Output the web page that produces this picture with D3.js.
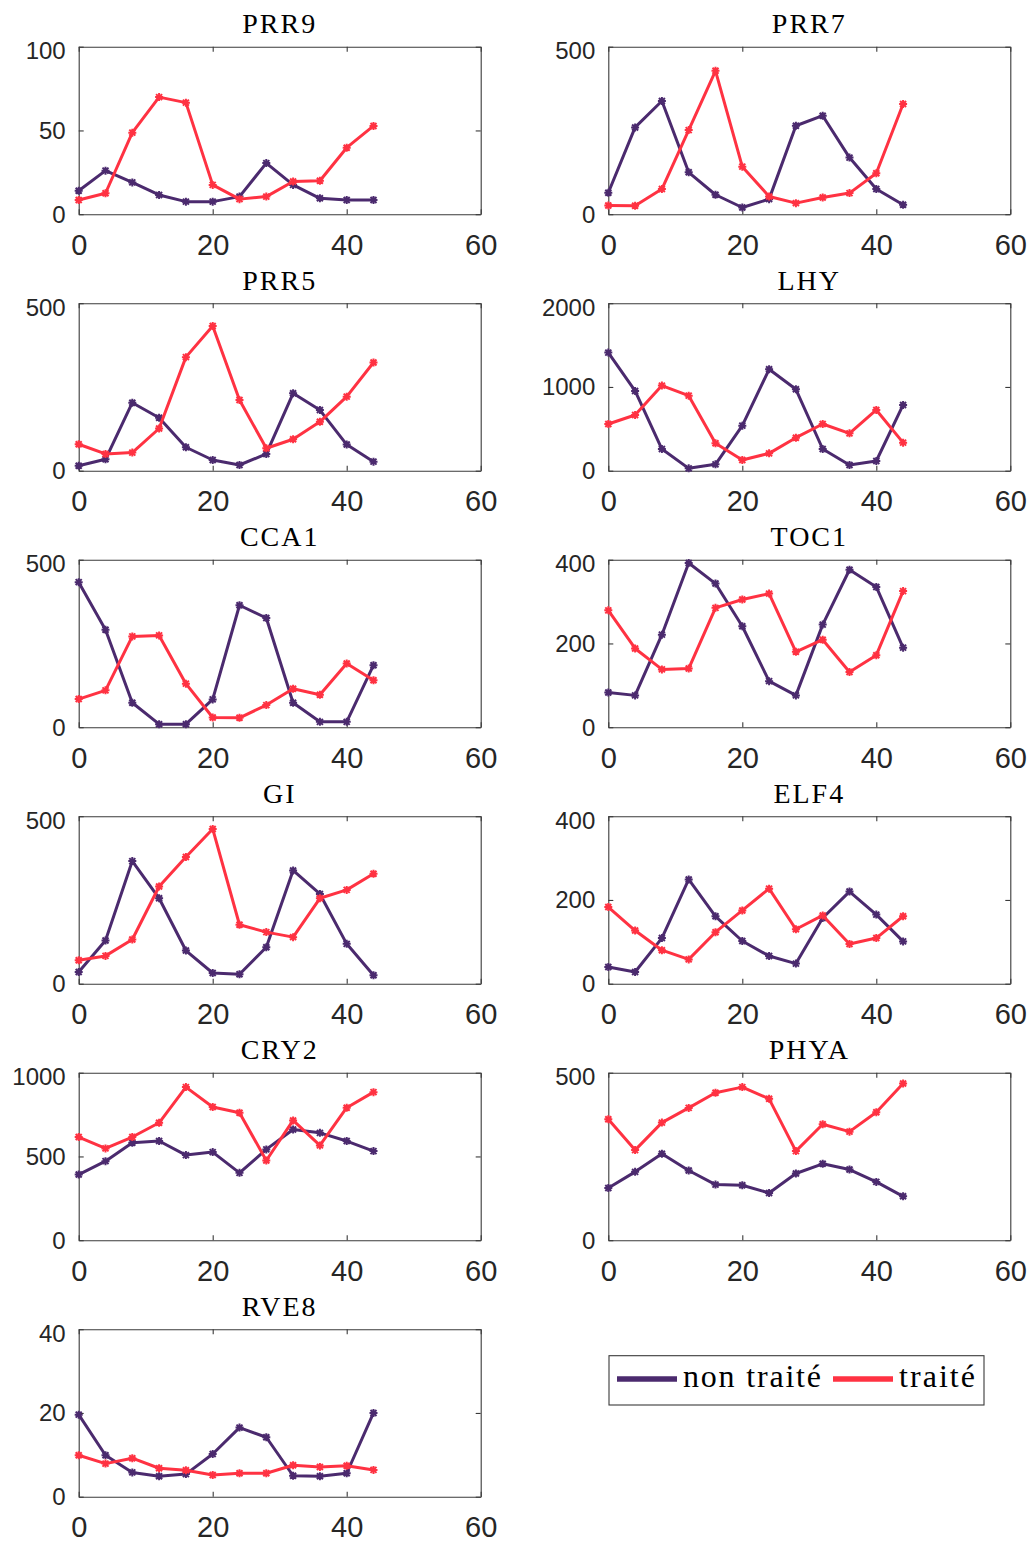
<!DOCTYPE html>
<html>
<head>
<meta charset="utf-8">
<script src="https://cdn.jsdelivr.net/npm/d3@7"></script>
<style>
  html, body { margin: 0; padding: 0; background: #fff; }
  svg { display: block; }
</style>
</head>
<body>
<svg id="chart" width="1031" height="1542"></svg>
<script>
// ---------- DATA ----------
const times = [0, 4, 8, 12, 16, 20, 24, 28, 32, 36, 40, 44];
const genes = ["PRR9", "PRR7", "PRR5", "LHY", "CCA1", "TOC1", "GI", "ELF4", "CRY2", "PHYA", "RVE8"];
const yMaxima = [100, 500, 500, 2000, 500, 400, 500, 400, 1000, 500, 40];
const yTickValues = [
  [0, 50, 100], [0, 500], [0, 500], [0, 1000, 2000], [0, 500], [0, 200, 400],
  [0, 500], [0, 200, 400], [0, 500, 1000], [0, 500], [0, 20, 40]
];
const xTickValues = [0, 20, 40, 60];
const seriesNames = ["non traité", "traité"];

// "non traité" values, one row per gene (same order as genes)
const nonTraite = [
  [14, 26, 19, 11.5, 7.5, 7.5, 10.5, 30.5, 17.5, 9.5, 8.5, 8.5],          // PRR9
  [64, 259, 338, 125, 58, 20, 45, 264, 294, 169, 75, 28],                // PRR7
  [15, 34, 203, 158, 70, 32, 17, 50, 231, 181, 78, 27],                  // PRR5
  [1410, 952, 259, 28, 76, 538, 1211, 972, 259, 68, 116, 785],           // LHY
  [433, 291, 73, 9, 9, 83, 364, 326, 73, 16, 16, 185],                   // CCA1
  [83, 76, 221, 392, 343, 241, 110, 76, 245, 376, 335, 190],             // TOC1
  [35, 129, 366, 255, 99, 32, 28, 109, 338, 268, 119, 25],               // GI
  [40, 28, 109, 249, 161, 102, 66, 48, 157, 220, 165, 101],              // ELF4
  [392, 472, 582, 592, 508, 526, 402, 542, 661, 641, 592, 532],          // CRY2
  [156, 204, 258, 208, 166, 164, 141, 199, 228, 211, 174, 131],          // PHYA
  [19.6, 9.9, 5.8, 4.9, 5.4, 10.2, 16.5, 14.2, 5.0, 4.9, 5.6, 20]        // RVE8
];
// "traité" values, one row per gene
const traite = [
  [8.5, 12.5, 48.7, 69.9, 66.6, 17.5, 9, 10.5, 19.5, 20, 39.7, 52.7],    // PRR9
  [26, 25, 75, 251, 428, 142, 53, 33, 50, 63, 122, 329],                 // PRR7
  [79, 50, 54, 126, 339, 432, 211, 67, 94, 146, 221, 323],               // PRR5
  [558, 665, 1016, 896, 327, 127, 207, 394, 558, 446, 725, 335],         // LHY
  [84, 110, 271, 274, 130, 29, 28, 66, 115, 97, 190, 140],               // CCA1
  [279, 188, 138, 140, 285, 305, 319, 180, 209, 132, 172, 325],          // TOC1
  [70, 83, 132, 290, 378, 462, 176, 154, 139, 255, 280, 328],            // GI
  [183, 127, 80, 58, 123, 175, 227, 130, 163, 95, 109, 161],             // ELF4
  [616, 548, 616, 701, 914, 795, 761, 476, 715, 566, 791, 884],          // CRY2
  [361, 269, 351, 395, 440, 457, 422, 266, 346, 324, 382, 468],          // PHYA
  [9.9, 7.9, 9.2, 6.8, 6.3, 5.2, 5.6, 5.6, 7.5, 7.1, 7.4, 6.4]           // RVE8
];

// ---------- STYLE / LAYOUT ----------
const colors = ["#4b2a6e", "#ff3242"];
const axisColor = "#262626";
const colLeft = [78.7, 608.3];
const plotW = 402;
const rowTop0 = 46.7, rowPitch = 256.5, plotH = 167.5;
const fmt = d3.format("d");

const svg = d3.select("#chart");

genes.forEach((gene, gi) => {
  const col = gi % 2, row = Math.floor(gi / 2);
  const left = colLeft[col], top = rowTop0 + row * rowPitch;
  const g = svg.append("g").attr("transform", `translate(${left},${top})`);

  const x = d3.scaleLinear().domain([0, 60]).range([0, plotW]);
  const y = d3.scaleLinear().domain([0, yMaxima[gi]]).range([plotH, 0]);

  // background
  g.append("rect").attr("width", plotW).attr("height", plotH).attr("fill", "#fff");

  // axes
  const bottom = g.append("g").attr("transform", `translate(0,${plotH})`)
    .call(d3.axisBottom(x).tickValues(xTickValues).tickFormat(fmt)
      .tickSizeInner(-5).tickSizeOuter(0).tickPadding(20));
  const topAx = g.append("g")
    .call(d3.axisTop(x).tickValues(xTickValues).tickSizeInner(-5).tickSizeOuter(0).tickFormat(""));
  const leftAx = g.append("g")
    .call(d3.axisLeft(y).tickValues(yTickValues[gi]).tickFormat(fmt)
      .tickSizeInner(-5).tickSizeOuter(0).tickPadding(13));
  const rightAx = g.append("g").attr("transform", `translate(${plotW},0)`)
    .call(d3.axisRight(y).tickValues(yTickValues[gi]).tickSizeInner(-5).tickSizeOuter(0).tickFormat(""));

  [bottom, topAx, leftAx, rightAx].forEach(a => {
    a.select(".domain").attr("stroke", "#3a3a3a").attr("stroke-width", 1.1);
    a.selectAll(".tick line").attr("stroke", "#3a3a3a").attr("stroke-width", 1.1);
  });
  bottom.selectAll(".tick text")
    .attr("fill", axisColor).style("font-family", "'Liberation Sans', Arial, sans-serif")
    .style("font-size", "29px");
  const lastTick = yTickValues[gi][yTickValues[gi].length - 1];
  leftAx.selectAll(".tick text")
    .attr("fill", axisColor).style("font-family", "'Liberation Sans', Arial, sans-serif")
    .style("font-size", "24px")
    .attr("dy", d => d === lastTick ? "0.5em" : "0.33em");

  // series
  const line = d3.line().x((d, i) => x(times[i])).y(d => y(d));
  [nonTraite[gi], traite[gi]].forEach((vals, si) => {
    g.append("path").datum(vals)
      .attr("d", line).attr("fill", "none")
      .attr("stroke", colors[si]).attr("stroke-width", 3)
      .attr("stroke-linejoin", "round");
    g.selectAll(null).data(vals).enter().append("path")
      .attr("transform", (d, i) => `translate(${x(times[i])},${y(d)})`)
      .attr("d", "M-4,0H4M0,-4V4M-3,-3L3,3M-3,3L3,-3")
      .attr("fill", "none").attr("stroke", colors[si]).attr("stroke-width", 2);
  });

  // title
  g.append("text")
    .attr("x", plotW / 2).attr("y", -13.5)
    .attr("text-anchor", "middle")
    .style("font-family", "'Liberation Serif', 'Times New Roman', serif")
    .style("font-size", "28px").style("letter-spacing", "2px")
    .attr("fill", "#000")
    .text(gene);
});

// ---------- LEGEND ----------
const lg = svg.append("g");
lg.append("rect").attr("x", 609).attr("y", 1355.7).attr("width", 375).attr("height", 49.3)
  .attr("fill", "#fff").attr("stroke", "#3a3a3a").attr("stroke-width", 1.1);
const legendItems = [
  { lx1: 617, lx2: 677, tx: 683, w: 138 },
  { lx1: 833, lx2: 893, tx: 899, w: 76 }
];
legendItems.forEach((it, i) => {
  lg.append("line").attr("x1", it.lx1).attr("x2", it.lx2).attr("y1", 1379).attr("y2", 1379)
    .attr("stroke", colors[i]).attr("stroke-width", 5.5);
  lg.append("text").attr("x", it.tx).attr("y", 1386.7)
    .attr("textLength", it.w).attr("lengthAdjust", "spacing")
    .style("font-family", "'Liberation Serif', 'Times New Roman', serif")
    .style("font-size", "32px").attr("fill", "#000")
    .text(seriesNames[i]);
});
</script>
</body>
</html>
